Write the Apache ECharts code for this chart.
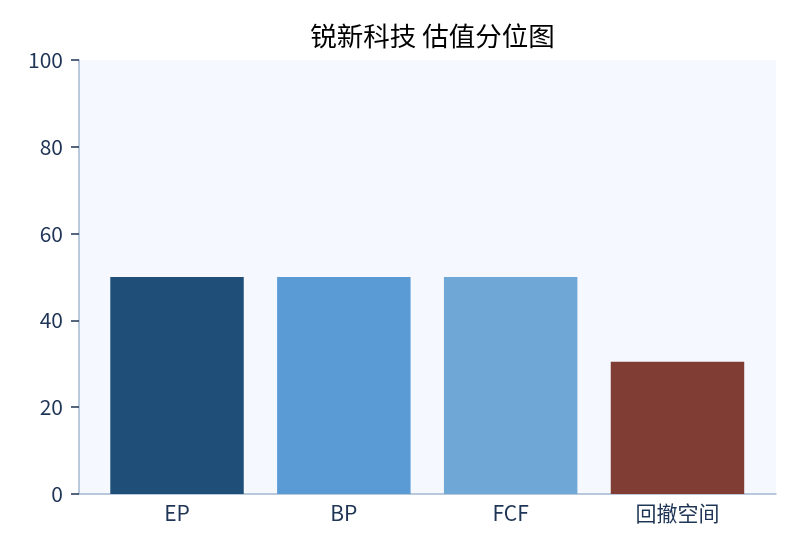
<!DOCTYPE html>
<html><head><meta charset="utf-8">
<script src="https://cdn.jsdelivr.net/npm/echarts@6/dist/echarts.min.js"></script>
<style>html,body{margin:0;padding:0;background:#fff}#c{width:800px;height:560px}</style>
</head><body><div id="c"></div>
<script>
const categories = ['EP', 'BP', 'FCF', '回撤空间'];
const values = [50, 50, 50, 30.5];
const barColors = ['#1f4e79', '#5b9bd5', '#6fa8d6', '#7f3d34'];
const yTicks = [0, 20, 40, 60, 80, 100];

const chart = echarts.init(document.getElementById('c'));
const font = '"Noto Sans CJK SC", "Noto Sans", sans-serif';
const labelColor = '#1f3556';
const lineColor = '#a3b8d0';
chart.setOption({
  animation: false,
  title: {
    text: '锐新科技 估值分位图', left: 427.5, textAlign: 'center', top: 18,
    textStyle: { fontFamily: font, fontSize: 26.5, fontWeight: 'normal', color: '#000' }
  },
  grid: [
    { left: 79, right: 24, top: 60, bottom: 66, show: true, backgroundColor: '#f5f9ff', borderWidth: 0 },
    { left: 93.6, right: 39.1, top: 60, bottom: 66 }
  ],
  xAxis: [
    {
      gridIndex: 0, type: 'value', min: 0, max: 1,
      axisLine: { show: true, onZero: false, lineStyle: { color: lineColor, width: 1.5 } },
      axisTick: { show: false }, axisLabel: { show: false }, splitLine: { show: false }
    },
    {
      gridIndex: 1, type: 'category', data: categories,
      axisLine: { show: false },
      axisTick: { alignWithLabel: true, length: 8, lineStyle: { color: labelColor, width: 1.5 } },
      axisLabel: { fontFamily: font, fontSize: 21, color: labelColor, margin: 9 }
    }
  ],
  yAxis: [
    {
      gridIndex: 0, type: 'value', min: yTicks[0], max: yTicks[yTicks.length - 1], interval: 20,
      splitLine: { show: false },
      axisLine: { show: true, lineStyle: { color: lineColor, width: 1.5 } },
      axisTick: { show: true, length: 8, lineStyle: { color: labelColor, width: 1.5 } },
      axisLabel: { fontFamily: font, fontSize: 21, color: labelColor, margin: 16 }
    },
    {
      gridIndex: 1, type: 'value', min: yTicks[0], max: yTicks[yTicks.length - 1],
      show: false
    }
  ],
  series: [{
    type: 'bar', xAxisIndex: 1, yAxisIndex: 1, barWidth: '80%',
    data: values.map((v, i) => ({ value: v, itemStyle: { color: barColors[i] } }))
  }]
});
</script></body></html>
